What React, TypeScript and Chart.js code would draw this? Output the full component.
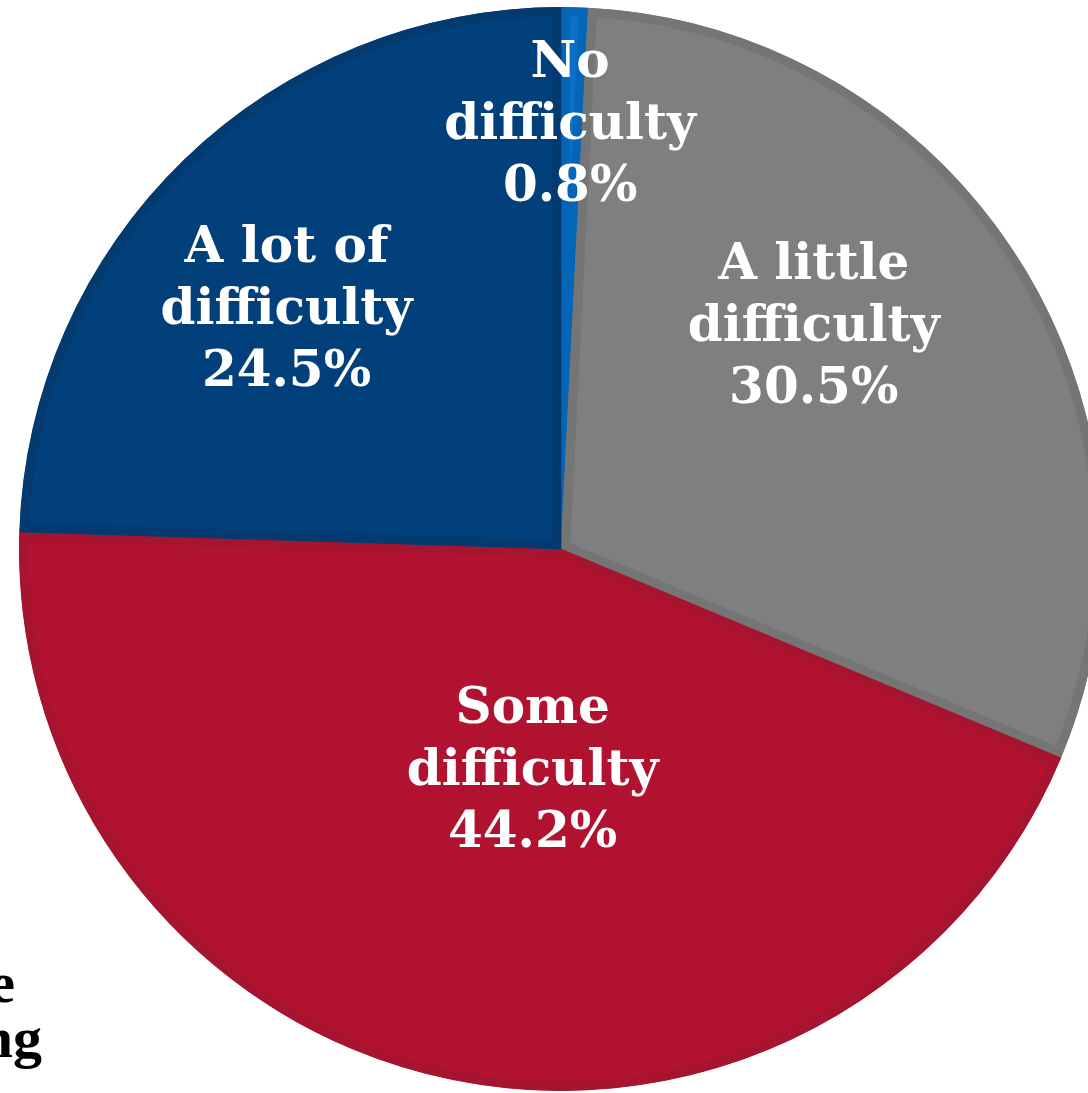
import React, { useEffect, useRef } from "react";
import { Chart, registerables } from "chart.js";

Chart.register(...registerables);

const categories = ["No difficulty", "A little difficulty", "Some difficulty", "A lot of difficulty"];
const values = [0.8, 30.5, 44.2, 24.5];
const labelLines = [
  ["No", "difficulty"],
  ["A little", "difficulty"],
  ["Some", "difficulty"],
  ["A lot of", "difficulty"],
];
const fillColors = ["#0A70C8", "#7F7F7F", "#B01230", "#01407A"];
const edgeColors = ["#0566B8", "#757575", "#A6142F", "#033B70"];

// label placement relative to each slice (angle tweak in degrees, fraction of radius)
const labelAngleTweak = [-0.2, -9, -5, -5];
const labelRadiusFrac = [0.78, 0.62, 0.415, 0.67];

const labelPlugin = {
  id: "sliceLabels",
  afterDatasetsDraw(chart: any) {
    const ctx = chart.ctx;
    const meta = chart.getDatasetMeta(0);
    ctx.save();
    ctx.fillStyle = "#FFFFFF";
    ctx.font = "bold 50px 'DejaVu Serif'";
    ctx.textAlign = "center";
    ctx.textBaseline = "middle";
    meta.data.forEach((arc: any, i: number) => {
      const p = arc.getProps(["x", "y", "startAngle", "endAngle", "outerRadius"], true);
      const mid = (p.startAngle + p.endAngle) / 2 + (labelAngleTweak[i] * Math.PI) / 180;
      const r = p.outerRadius * labelRadiusFrac[i];
      const cx = p.x + Math.cos(mid) * r;
      const cy = p.y + Math.sin(mid) * r;
      const lines = [...labelLines[i], values[i].toFixed(1) + "%"];
      const lh = 62;
      const top = cy - ((lines.length - 1) * lh) / 2;
      lines.forEach((t, k) => ctx.fillText(t, cx, top + k * lh));
    });
    ctx.restore();
  },
};

export default function App() {
  const ref = useRef<HTMLCanvasElement>(null);
  useEffect(() => {
    if (!ref.current) return;
    const chart = new Chart(ref.current, {
      type: "pie",
      data: {
        labels: categories,
        datasets: [
          {
            data: values,
            backgroundColor: fillColors,
            borderColor: edgeColors,
            borderWidth: 9,
            borderAlign: "inner",
            hoverBorderWidth: 0,
          } as any,
        ],
      },
      options: {
        animation: false,
        responsive: false,
        devicePixelRatio: 1,
        layout: { padding: 0 },
        plugins: { legend: { display: false }, tooltip: { enabled: false } },
      },
      plugins: [labelPlugin],
    });
    return () => chart.destroy();
  }, []);

  return (
    <div
      style={{
        position: "absolute",
        left: 0,
        top: 0,
        width: 1088,
        height: 1093,
        overflow: "hidden",
        background: "#FFFFFF",
      }}
    >
      <canvas
        ref={ref}
        width={1086}
        height={1084}
        style={{ position: "absolute", left: 18, top: 7, width: 1086, height: 1084 }}
      />
      <div
        style={{
          position: "absolute",
          left: -300,
          width: 315,
          top: 955,
          textAlign: "right",
          font: "bold 58px 'Liberation Serif'",
          lineHeight: "55px",
          color: "#000000",
          whiteSpace: "nowrap",
        }}
      >
        e
      </div>
      <div
        style={{
          position: "absolute",
          left: -300,
          width: 342,
          top: 1010,
          textAlign: "right",
          font: "bold 58px 'Liberation Serif'",
          lineHeight: "55px",
          color: "#000000",
          whiteSpace: "nowrap",
        }}
      >
        ng
      </div>
    </div>
  );
}
